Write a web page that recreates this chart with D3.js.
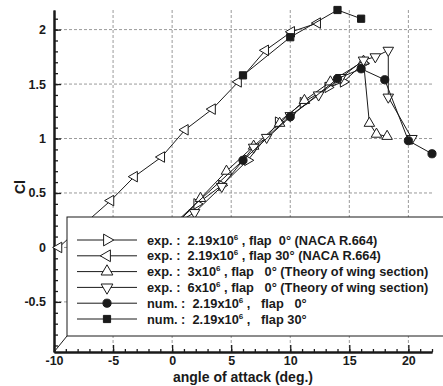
<!DOCTYPE html>
<html>
<head>
<meta charset="utf-8">
<script src="https://cdn.jsdelivr.net/npm/d3@7"></script>
<style>
  body { margin: 0; background: #fff; }
  svg { display: block; font-family: Arial, "Liberation Sans", sans-serif; }
</style>
</head>
<body>
<svg id="chart" width="443" height="386"></svg>
<script>
// data: [angle of attack, Cl]
var expFlap0Naca = [[-1.9, 0.0], [0.1, 0.2], [2.1, 0.40], [4.2, 0.57], [6.4, 0.80], [9.0, 1.15], [11.1, 1.33], [13.2, 1.47], [14.5, 1.52], [16.2, 1.69]];
var expFlap30Naca = [[-9.6, 0.0], [-7.4, 0.22], [-5.2, 0.43], [-3.2, 0.65], [-0.9, 0.83], [1.1, 1.08], [3.4, 1.27], [5.6, 1.52], [7.9, 1.81], [10.1, 1.98], [12.3, 2.06]];
var exp3e6 = [[-0.2, 0.15], [2.4, 0.45], [4.6, 0.70], [6.9, 0.93], [9.1, 1.14], [11.2, 1.35], [13.4, 1.52], [16.2, 1.71], [16.7, 1.14], [17.3, 1.04], [18.2, 1.02]];
var exp6e6 = [[0.0, 0.2], [1.9, 0.32], [4.2, 0.56], [6.9, 0.92], [8.0, 1.01], [10.0, 1.21], [12.4, 1.40], [14.3, 1.56], [16.2, 1.72], [17.2, 1.75], [18.3, 1.81], [18.3, 1.38], [20.3, 1.00]];
var numFlap0 = [[-2, 0.0], [6, 0.80], [10, 1.20], [14, 1.55], [16, 1.64], [18, 1.54], [20, 0.98], [22, 0.86]];
var numFlap30 = [[6, 1.58], [10, 1.93], [14, 2.18], [16, 2.10]];

var xTicks = [-10, -5, 0, 5, 10, 15, 20];
var yTicks = [-0.5, 0, 0.5, 1, 1.5, 2];
var xGrid = [-5, 0, 5, 10, 15, 20];

var legendPre = ["exp. :  2.19x10", "exp. :  2.19x10", "exp. :  3x10", "exp. :  6x10", "num. :  2.19x10", "num. :  2.19x10"];
var legendPost = [" , flap  0\u00b0 (NACA R.664)", " , flap 30\u00b0 (NACA R.664)", " , flap   0\u00b0 (Theory of wing section)", " , flap   0\u00b0 (Theory of wing section)", " ,   flap   0\u00b0", " ,   flap 30\u00b0"];

var series = [
  {data: expFlap0Naca, shape: d3.symbolTriangle, rot: 90, fill: "#fff"},
  {data: expFlap30Naca, shape: d3.symbolTriangle, rot: -90, fill: "#fff"},
  {data: exp3e6, shape: d3.symbolTriangle, rot: 0, fill: "#fff"},
  {data: exp6e6, shape: d3.symbolTriangle, rot: 180, fill: "#fff"},
  {data: numFlap0, shape: d3.symbolCircle, rot: 0, fill: "#1a1a1a"},
  {data: numFlap30, shape: d3.symbolSquare, rot: 0, fill: "#1a1a1a"}
];

var svg = d3.select("#chart");
var ink = "#1a1a1a";

var x = d3.scaleLinear().domain([-10, 22]).range([54, 432]);
var y = d3.scaleLinear().domain([-0.96, 2.18]).range([352, 10]);

// grid
svg.append("g").selectAll("line").data(xGrid).enter().append("line")
  .attr("x1", d => x(d)).attr("x2", d => x(d))
  .attr("y1", y(2.18)).attr("y2", y(-0.96))
  .attr("stroke", "#9a9a9a").attr("stroke-dasharray", "3,2");
svg.append("g").selectAll("line").data(yTicks).enter().append("line")
  .attr("x1", x(-10)).attr("x2", x(22))
  .attr("y1", d => y(d)).attr("y2", d => y(d))
  .attr("stroke", "#9a9a9a").attr("stroke-dasharray", "3,2");

// axes
svg.append("g").attr("transform", "translate(0," + y(-0.96) + ")")
  .call(d3.axisBottom(x).tickValues(xTicks).tickSize(-7).tickSizeOuter(0).tickPadding(4).tickFormat(d => String(d)));
svg.append("g").attr("transform", "translate(0," + y(-0.96) + ")")
  .call(d3.axisBottom(x).tickValues(d3.range(-9, 23, 1)).tickSize(-3).tickSizeOuter(0).tickFormat(""));
svg.append("g").attr("transform", "translate(" + x(-10) + ",0)")
  .call(d3.axisLeft(y).tickValues(yTicks).tickSize(-7).tickSizeOuter(0).tickPadding(8).tickFormat(d => String(d)));
svg.append("g").attr("transform", "translate(" + x(-10) + ",0)")
  .call(d3.axisLeft(y).tickValues(d3.range(-9, 22, 1).map(d => d / 10)).tickSize(-4).tickSizeOuter(0).tickFormat(""));

svg.selectAll(".domain").attr("stroke", ink).attr("stroke-width", 2);
svg.selectAll(".tick line").attr("stroke", ink).attr("stroke-width", 1.3);
svg.selectAll(".tick text").attr("fill", ink).style("font-size", "12.5px").style("font-weight", "bold");

// axis titles
svg.append("text").attr("x", 243).attr("y", 382).attr("text-anchor", "middle")
  .attr("fill", ink).style("font-size", "14px").style("font-weight", "bold")
  .text("angle of attack (deg.)");
svg.append("text").attr("transform", "translate(25,187) rotate(-90)").attr("text-anchor", "middle")
  .attr("fill", ink).style("font-size", "14px").style("font-weight", "bold")
  .text("Cl");

// lines and markers
var line = d3.line().x(d => x(d[0])).y(d => y(d[1]));
series.forEach(function(s) {
  svg.append("path").datum(s.data).attr("d", line)
    .attr("fill", "none").attr("stroke", ink).attr("stroke-width", 1);
  svg.append("g").selectAll("path").data(s.data).enter().append("path")
    .attr("d", d3.symbol().type(s.shape).size(s.shape === d3.symbolTriangle ? 48 : 52))
    .attr("transform", d => "translate(" + x(d[0]) + "," + y(d[1]) + ") rotate(" + s.rot + ")")
    .attr("fill", s.fill).attr("stroke", ink).attr("stroke-width", 1);
});

// legend
var lg = svg.append("g");
lg.append("line").attr("x1", 67).attr("y1", 336).attr("x2", x(-10)).attr("y2", y(-0.96))
  .attr("stroke", ink).attr("stroke-width", 1);
lg.append("rect").attr("x", 67).attr("y", 217).attr("width", 400).attr("height", 119)
  .attr("fill", "#fff").attr("stroke", ink).attr("stroke-width", 1);

series.forEach(function(s, i) {
  var ry = 240 + i * 15.8;
  lg.append("line").attr("x1", 77).attr("x2", 137).attr("y1", ry).attr("y2", ry)
    .attr("stroke", ink).attr("stroke-width", 1);
  lg.append("path")
    .attr("d", d3.symbol().type(s.shape).size(s.shape === d3.symbolTriangle ? 60 : 52))
    .attr("transform", "translate(107," + ry + ") rotate(" + s.rot + ")")
    .attr("fill", s.fill).attr("stroke", ink).attr("stroke-width", 1);
  var t = lg.append("text").attr("x", 147).attr("y", ry + 4.5)
    .attr("fill", ink).style("font-size", "12.8px").style("font-weight", "bold").style("white-space", "pre");
  t.append("tspan").text(legendPre[i]);
  t.append("tspan").attr("dy", -5).style("font-size", "8px").text("6");
  t.append("tspan").attr("dy", 5).text(legendPost[i]);
});
</script>
</body>
</html>
